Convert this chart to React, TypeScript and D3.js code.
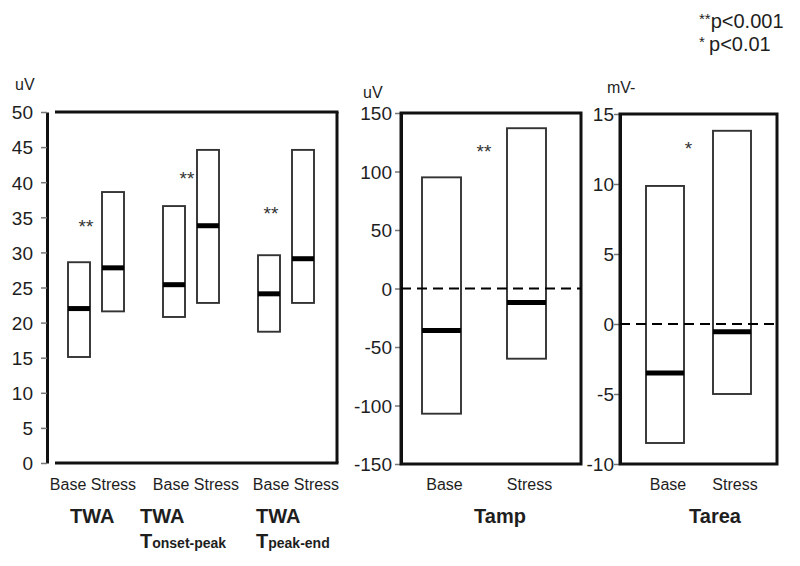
import { useRef, useEffect } from "react"
import * as d3 from "d3"

// TWA panel (uV)
const twaGroups = ["TWA", "TWA Tonset-peak", "TWA Tpeak-end"]
const twaBaseLow = [15.1, 20.8, 18.7]
const twaBaseMedian = [22.0, 25.4, 24.1]
const twaBaseHigh = [28.6, 36.6, 29.6]
const twaStressLow = [21.6, 22.8, 22.8]
const twaStressMedian = [27.8, 33.8, 29.1]
const twaStressHigh = [38.6, 44.6, 44.6]
const twaStars = [34.2, 41.0, 36.0]
const twaTicks = [0, 5, 10, 15, 20, 25, 30, 35, 40, 45, 50]

// Tamp / Tarea panels
const conditions = ["Base", "Stress"]
const tampLow = [-107, -60]
const tampMedian = [-36, -12]
const tampHigh = [95, 137]
const tampStar = 120
const tampTicks = [-150, -100, -50, 0, 50, 100, 150]

const tareaLow = [-8.5, -5.0]
const tareaMedian = [-3.5, -0.55]
const tareaHigh = [9.86, 13.8]
const tareaStar = 12.8
const tareaTicks = [-10, -5, 0, 5, 10, 15]

const FONT = "Liberation Sans, Arial, Helvetica, sans-serif"
const INK = "#1e1e1e"

const App = () => {
  const svgRef = useRef(null)

  useEffect(() => {
    const svg = d3.select(svgRef.current)
    svg.selectAll("*").remove()
    svg.style("font-family", FONT)

    const styleAxis = (g) => {
      g.select(".domain").attr("stroke", "#111").attr("stroke-width", 3)
      g.selectAll(".tick line").attr("stroke", "#777").attr("stroke-width", 1.5)
      g.selectAll(".tick text")
        .attr("fill", INK)
        .style("font-size", "19px")
        .style("font-family", FONT)
        .attr("dy", "0.36em")
    }

    const drawBox = (cx, w, y, lo, med, hi) => {
      svg
        .append("rect")
        .attr("x", cx - w / 2)
        .attr("y", y(hi))
        .attr("width", w)
        .attr("height", y(lo) - y(hi))
        .attr("fill", "white")
        .attr("stroke", "#333")
        .attr("stroke-width", 1.9)
      svg
        .append("line")
        .attr("x1", cx - w / 2)
        .attr("x2", cx + w / 2)
        .attr("y1", y(med))
        .attr("y2", y(med))
        .attr("stroke", "#000")
        .attr("stroke-width", 5)
    }

    const star = (x, y, txt) => {
      svg
        .append("text")
        .attr("x", x)
        .attr("y", y + 10)
        .attr("text-anchor", "middle")
        .style("font-size", "19px")
        .attr("fill", "#333")
        .text(txt)
    }

    const unit = (x, y, txt) => {
      svg.append("text").attr("x", x).attr("y", y).style("font-size", "16px").attr("fill", INK).text(txt)
    }

    const bold = (x, y, txt, size) =>
      svg.append("text").attr("x", x).attr("y", y).style("font-size", `${size}px`).style("font-weight", "bold").attr("fill", INK).text(txt)

    // ---------- Panel 1: TWA ----------
    const y1 = d3.scaleLinear().domain([0, 50]).range([463, 112])
    const x1 = d3.scalePoint().domain(twaGroups).range([96, 286])
    const left1 = 47
    const right1 = 337

    const ax1 = svg
      .append("g")
      .attr("transform", `translate(${left1},0)`)
      .call(d3.axisLeft(y1).tickValues(twaTicks).tickSize(6).tickSizeOuter(0).tickPadding(8))
    styleAxis(ax1)

    // frame (top, bottom, right) starts a bit right of the axis
    ;[y1(50), y1(0)].forEach((yy) => {
      svg.append("line").attr("x1", 55).attr("x2", right1 + 1.5).attr("y1", yy).attr("y2", yy).attr("stroke", "#111").attr("stroke-width", 3)
    })
    svg.append("line").attr("x1", right1).attr("x2", right1).attr("y1", y1(50)).attr("y2", y1(0)).attr("stroke", "#111").attr("stroke-width", 3)

    twaGroups.forEach((g, i) => {
      const c = x1(g)
      drawBox(c - 17, 22, y1, twaBaseLow[i], twaBaseMedian[i], twaBaseHigh[i])
      drawBox(c + 17, 22, y1, twaStressLow[i], twaStressMedian[i], twaStressHigh[i])
      star(c - [10, 4, 15][i], y1(twaStars[i]), "**")
      svg
        .append("text")
        .attr("x", c + [-3, 5, 10][i])
        .attr("y", 490)
        .attr("text-anchor", "middle")
        .style("font-size", "16px")
        .attr("fill", INK)
        .text("Base Stress")
    })

    bold(70, 523, "TWA", 20)
    bold(140, 523, "TWA", 20)
    bold(256, 523, "TWA", 20)
    const sub1 = bold(140, 548, "T", 20)
    sub1.append("tspan").style("font-size", "14px").text("onset-peak")
    const sub2 = bold(256, 548, "T", 20)
    sub2.append("tspan").style("font-size", "14px").text("peak-end")

    unit(15, 90, "uV")

    // ---------- Panels 2 & 3 ----------
    const drawPanel = (opts) => {
      const { left, right, y, ticks, lo, med, hi, starV, starTxt, centers, bw, title, titleX, pad, unitTxt, unitX, unitY } = opts
      const x = d3.scalePoint().domain(conditions).range(centers)
      const [d0, d1] = y.domain()
      const ax = svg
        .append("g")
        .attr("transform", `translate(${left},0)`)
        .call(d3.axisLeft(y).tickValues(ticks).tickSize(6).tickSizeOuter(0).tickPadding(pad).tickFormat((d) => `${d}`))
      styleAxis(ax)
      svg
        .append("rect")
        .attr("x", left)
        .attr("y", y(d1))
        .attr("width", right - left)
        .attr("height", y(d0) - y(d1))
        .attr("fill", "none")
        .attr("stroke", "#111")
        .attr("stroke-width", 3)
      conditions.forEach((c, i) => {
        drawBox(x(c), bw, y, lo[i], med[i], hi[i])
        svg
          .append("text")
          .attr("x", x(c) + 3)
          .attr("y", 490)
          .attr("text-anchor", "middle")
          .style("font-size", "16px")
          .attr("fill", INK)
          .text(c)
      })
      // dashed zero line
      svg
        .append("line")
        .attr("x1", left)
        .attr("x2", right)
        .attr("y1", y(0))
        .attr("y2", y(0))
        .attr("stroke", "#000")
        .attr("stroke-width", 2.2)
        .attr("stroke-dasharray", "10,6")
      star((x("Base") + x("Stress")) / 2 + (starTxt === "*" ? -10 : 0), y(starV), starTxt)
      bold(titleX, 523, title, 20).attr("text-anchor", "middle")
      unit(unitX, unitY, unitTxt)
    }

    drawPanel({
      left: 401,
      right: 581,
      y: d3.scaleLinear().domain([-150, 150]).range([464, 113]),
      ticks: tampTicks,
      lo: tampLow,
      med: tampMedian,
      hi: tampHigh,
      starV: tampStar,
      starTxt: "**",
      centers: [441.5, 526.5],
      bw: 39,
      title: "Tamp",
      titleX: 500,
      pad: 3,
      unitTxt: "uV",
      unitX: 363,
      unitY: 98,
    })

    drawPanel({
      left: 620,
      right: 777,
      y: d3.scaleLinear().domain([-10, 15]).range([464, 114]),
      ticks: tareaTicks,
      lo: tareaLow,
      med: tareaMedian,
      hi: tareaHigh,
      starV: tareaStar,
      starTxt: "*",
      centers: [665, 732],
      bw: 38,
      title: "Tarea",
      titleX: 715,
      pad: 0,
      unitTxt: "mV-",
      unitX: 607,
      unitY: 93,
    })

    // legend
    const l1 = svg.append("text").attr("x", 699).attr("y", 28).style("font-size", "20px").attr("fill", INK)
    l1.append("tspan").style("font-size", "15px").attr("dy", "-4").text("**")
    l1.append("tspan").attr("dy", "4").text("p<0.001")
    const l2 = svg.append("text").attr("x", 699).attr("y", 51).style("font-size", "20px").attr("fill", INK)
    l2.append("tspan").style("font-size", "15px").attr("dy", "-4").text("* ")
    l2.append("tspan").attr("dy", "4").text("p<0.01")
  }, [])

  return (
    <svg
      ref={svgRef}
      width={800}
      height={566}
      style={{ position: "absolute", left: 0, top: 0, background: "white" }}
    ></svg>
  )
}

export default App
